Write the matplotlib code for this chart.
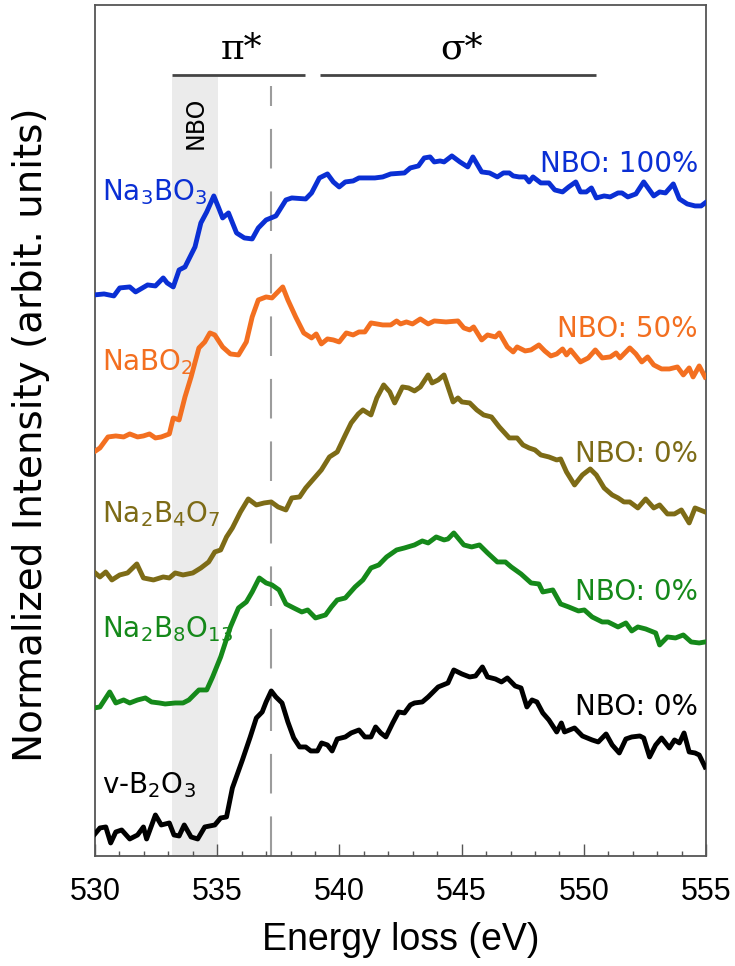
import matplotlib.pyplot as plt

# O K-edge spectra, stacked intensities (arbit. units), energies in eV
e_na3bo3 = [529.96, 530.37, 530.77, 531.01, 531.42, 531.66, 532.15, 532.47, 532.79, 532.95,
            533.2, 533.44, 533.68, 534.09, 534.33, 534.57, 534.86, 535.06, 535.22, 535.46,
            535.79, 536.11, 536.43, 536.68, 537.0, 537.4, 537.81, 538.05, 538.62, 538.86,
            539.18, 539.51, 539.75, 539.99, 540.24, 540.56, 540.8, 541.45, 541.77, 542.1,
            542.66, 542.9, 543.23, 543.47, 543.71, 543.88, 544.12, 544.28, 544.6, 544.93,
            545.25, 545.46, 545.82, 546.14, 546.46, 546.71, 546.95, 547.11, 547.35, 547.6,
            547.76, 547.92, 548.24, 548.57, 548.81, 549.13, 549.38, 549.67, 549.86, 550.1,
            550.31, 550.51, 550.83, 551.08, 551.4, 551.56, 551.8, 552.13, 552.45, 552.86,
            553.1, 553.34, 553.66, 553.91, 554.23, 554.55, 554.8, 554.96]
i_na3bo3 = [561, 562, 560, 568, 569, 564, 571, 570, 578, 573,
            569, 586, 589, 609, 633, 644, 660, 648, 638, 643,
            623, 618, 617, 628, 636, 640, 656, 658, 657, 663,
            678, 682, 674, 669, 674, 675, 678, 678, 679, 682,
            683, 688, 690, 698, 699, 694, 695, 694, 700, 694,
            689, 699, 684, 683, 679, 683, 683, 680, 679, 679,
            674, 679, 673, 673, 666, 664, 669, 674, 664, 664,
            668, 658, 660, 659, 663, 663, 659, 662, 674, 660,
            664, 663, 672, 657, 652, 650, 650, 653]

e_nabo2 = [529.96, 530.2, 530.53, 530.85, 531.17, 531.42, 531.74, 531.98, 532.23, 532.47,
           532.71, 533.04, 533.2, 533.44, 533.68, 533.93, 534.25, 534.49, 534.7, 534.9,
           535.22, 535.54, 535.87, 536.19, 536.43, 536.68, 537.0, 537.24, 537.68, 537.89,
           538.21, 538.54, 538.86, 539.05, 539.26, 539.51, 539.75, 539.99, 540.28, 540.56,
           540.8, 541.04, 541.29, 541.77, 542.1, 542.34, 542.5, 542.74, 542.99, 543.31,
           543.63, 543.88, 544.36, 544.85, 545.09, 545.33, 545.49, 545.82, 546.06, 546.38,
           546.54, 546.87, 547.11, 547.27, 547.6, 547.84, 548.16, 548.4, 548.65, 548.89,
           549.13, 549.29, 549.46, 549.86, 550.18, 550.47, 550.75, 551.08, 551.32, 551.48,
           551.88, 552.13, 552.37, 552.61, 552.86, 553.18, 553.5, 553.83, 554.07, 554.31,
           554.47, 554.72, 554.96]
i_nabo2 = [404, 408, 419, 420, 419, 422, 419, 420, 422, 418,
           419, 422, 438, 436, 459, 479, 508, 514, 523, 521,
           509, 502, 501, 514, 539, 556, 559, 558, 569, 556,
           539, 523, 518, 522, 512, 517, 516, 514, 523, 521,
           524, 524, 533, 531, 531, 535, 532, 534, 532, 537,
           532, 535, 534, 535, 528, 526, 529, 516, 521, 519,
           523, 509, 504, 509, 505, 506, 511, 505, 500, 502,
           507, 501, 506, 494, 498, 506, 498, 499, 503, 498,
           508, 502, 494, 499, 491, 487, 487, 489, 481, 488,
           479, 490, 479]

e_na2b4o7 = [529.96, 530.2, 530.44, 530.69, 531.01, 531.33, 531.71, 531.98, 532.39, 532.79,
             533.04, 533.28, 533.6, 534.0, 534.33, 534.65, 534.9, 535.14, 535.38, 535.62,
             535.95, 536.27, 536.6, 536.92, 537.21, 537.49, 537.81, 538.05, 538.37, 538.62,
             538.94, 539.26, 539.59, 539.91, 540.24, 540.48, 540.77, 540.96, 541.29, 541.53,
             541.81, 542.06, 542.26, 542.58, 542.83, 543.07, 543.31, 543.63, 543.79, 544.04,
             544.28, 544.65, 544.85, 545.01, 545.33, 545.62, 545.9, 546.22, 546.54, 546.95,
             547.27, 547.51, 547.76, 548.0, 548.24, 548.57, 548.89, 549.05, 549.29, 549.62,
             549.94, 550.26, 550.51, 550.83, 551.16, 551.4, 551.64, 551.88, 552.21, 552.53,
             552.86, 553.1, 553.42, 553.71, 553.99, 554.31, 554.55, 554.96]
i_na2b4o7 = [284, 279, 284, 276, 281, 283, 292, 278, 276, 279,
             278, 283, 281, 283, 288, 294, 304, 306, 319, 328,
             344, 357, 351, 353, 354, 349, 346, 358, 359, 368,
             377, 386, 399, 404, 421, 433, 442, 446, 441, 458,
             471, 464, 453, 469, 468, 465, 469, 481, 473, 476,
             481, 454, 458, 454, 453, 446, 441, 439, 429, 418,
             418, 411, 408, 406, 401, 399, 396, 397, 384, 371,
             381, 387, 381, 368, 361, 358, 354, 354, 348, 357,
             348, 351, 342, 342, 346, 333, 348, 344]

e_na2b8o13 = [529.96, 530.2, 530.44, 530.6, 530.85, 531.17, 531.42, 531.74, 532.06, 532.31,
              532.63, 532.87, 533.28, 533.6, 533.84, 534.25, 534.57, 534.81, 535.14, 535.54,
              535.87, 536.19, 536.43, 536.72, 537.0, 537.24, 537.53, 537.81, 538.13, 538.46,
              538.7, 539.02, 539.43, 539.67, 539.91, 540.24, 540.64, 540.96, 541.29, 541.61,
              541.93, 542.34, 542.66, 543.07, 543.39, 543.63, 543.96, 544.28, 544.44, 544.68,
              545.09, 545.41, 545.73, 546.06, 546.46, 546.79, 547.03, 547.43, 547.84, 548.16,
              548.32, 548.73, 549.05, 549.38, 549.78, 550.02, 550.34, 550.75, 550.99, 551.4,
              551.72, 551.96, 552.21, 552.53, 552.94, 553.1, 553.42, 553.75, 554.07, 554.39,
              554.72, 554.96]
i_na2b8o13 = [148, 149, 158, 164, 153, 156, 153, 156, 158, 154,
              153, 152, 153, 153, 156, 166, 166, 179, 199, 229,
              248, 254, 264, 278, 273, 271, 266, 252, 248, 244,
              246, 238, 241, 249, 256, 258, 269, 276, 288, 291,
              299, 306, 308, 311, 315, 313, 319, 316, 317, 323,
              311, 309, 311, 303, 294, 294, 289, 282, 273, 272,
              264, 266, 252, 249, 245, 246, 239, 234, 234, 229,
              233, 225, 229, 227, 223, 211, 219, 218, 221, 214,
              213, 214]

e_b2o3 = [529.96, 530.2, 530.44, 530.64, 530.85, 531.09, 531.42, 531.74, 531.98, 532.11,
          532.47, 532.71, 533.04, 533.23, 533.44, 533.65, 533.93, 534.2, 534.49, 534.9,
          535.14, 535.38, 535.62, 536.03, 536.35, 536.6, 536.84, 537.0, 537.21, 537.4,
          537.65, 537.89, 538.13, 538.37, 538.62, 538.83, 539.1, 539.27, 539.51, 539.7,
          539.91, 540.24, 540.48, 540.8, 541.04, 541.29, 541.48, 541.69, 541.9, 542.18,
          542.42, 542.66, 542.9, 543.07, 543.39, 543.63, 544.04, 544.44, 544.68, 545.01,
          545.33, 545.57, 545.85, 546.06, 546.38, 546.63, 546.87, 547.19, 547.43, 547.67,
          547.88, 548.08, 548.32, 548.57, 548.89, 549.08, 549.21, 549.62, 549.94, 550.34,
          550.59, 550.91, 551.16, 551.45, 551.72, 551.96, 552.29, 552.45, 552.69, 552.94,
          553.18, 553.5, 553.71, 553.91, 554.1, 554.31, 554.55, 554.72, 554.96]
i_b2o3 = [21, 28, 29, 13, 24, 26, 17, 21, 29, 17,
          41, 31, 33, 21, 20, 31, 19, 17, 29, 31,
          38, 39, 68, 96, 119, 138, 144, 154, 165, 159,
          153, 134, 118, 109, 109, 105, 105, 113, 111, 105,
          117, 119, 123, 126, 119, 119, 129, 123, 119, 133,
          144, 143, 151, 153, 154, 159, 169, 173, 186, 182,
          179, 180, 189, 179, 177, 174, 178, 170, 168, 149,
          156, 154, 143, 136, 124, 133, 124, 128, 120, 116,
          114, 122, 111, 103, 117, 119, 120, 118, 99, 111,
          118, 108, 116, 113, 123, 104, 103, 101, 89]

spectra = [
    (e_na3bo3, i_na3bo3, '#0a2fd4', r'Na$_3$BO$_3$', 'NBO: 100%', 656, 684),
    (e_nabo2, i_nabo2, '#f36f20', r'NaBO$_2$', 'NBO: 50%', 486, 519),
    (e_na2b4o7, i_na2b4o7, '#7d6b16', r'Na$_2$B$_4$O$_7$', 'NBO: 0%', 334, 394),
    (e_na2b8o13, i_na2b8o13, '#15891a', r'Na$_2$B$_8$O$_{13}$', 'NBO: 0%', 219, 256),
    (e_b2o3, i_b2o3, 'black', r'v-B$_2$O$_3$', 'NBO: 0%', 63, 141),
]

label_font = 'DejaVu Sans'
axis_font = 'Liberation Sans'

fig = plt.figure(figsize=(7.35, 9.66), dpi=100)
ax = fig.add_axes([0.1293, 0.1139, 0.8313, 0.8810])
ax.set_xlim(530, 555)
ax.set_ylim(0, 851)

# NBO pre-edge band and pi* reference line
ax.axvspan(533.15, 535.03, ymin=0, ymax=779 / 851, color='#ebebeb', lw=0, zorder=0)
ax.axvline(537.18, ymin=0, ymax=770 / 851, color='#9c9c9c', lw=1.5,
           dashes=(19, 11), zorder=1)
ax.text(534.13, 733, 'NBO', rotation=90, ha='center', va='center',
        fontsize=17, family=label_font)

# pi* / sigma* brackets
ax.plot([533.15, 538.6], [781, 781], color='#444444', lw=2, solid_capstyle='butt')
ax.plot([539.2, 550.5], [781, 781], color='#444444', lw=2, solid_capstyle='butt')
ax.text(536.0, 790, 'π*', ha='center', va='bottom', fontsize=26, family='DejaVu Serif')
ax.text(544.98, 790, 'σ*', ha='center', va='bottom', fontsize=26, family='DejaVu Serif')

for energy, inten, color, name, nbo, y_name, y_nbo in spectra:
    ax.plot(energy, inten, color=color, lw=3.5, solid_joinstyle='round', zorder=3)
    ax.text(530.29, y_name, name, color=color, ha='left', va='baseline',
            fontsize=20, family=label_font)
    ax.text(554.67, y_nbo, nbo, color=color, ha='right', va='baseline',
            fontsize=20, family=label_font)

for side in ['left', 'right', 'top', 'bottom']:
    ax.spines[side].set_color('#555555')
    ax.spines[side].set_linewidth(1.3)

ax.set_xticks([530, 535, 540, 545, 550, 555])
ax.set_xticks(range(530, 556), minor=True)
ax.set_yticks([])
ax.tick_params(axis='x', which='major', direction='in', length=8.5, width=1.0,
               color='#555555', pad=15, labelsize=22)
ax.tick_params(axis='x', which='minor', direction='in', length=3.6, width=1.0,
               color='#555555')
for lab in ax.get_xticklabels():
    lab.set_family(axis_font)

ax.set_xlabel('Energy loss (eV)', fontsize=27, family=axis_font)
ax.xaxis.set_label_coords(0.5, -0.078)
ax.set_ylabel('Normalized Intensity (arbit. units)', fontsize=28, family=label_font)
ax.yaxis.set_label_coords(-0.074, 0.495)

fig.savefig('out.png', dpi=100)
